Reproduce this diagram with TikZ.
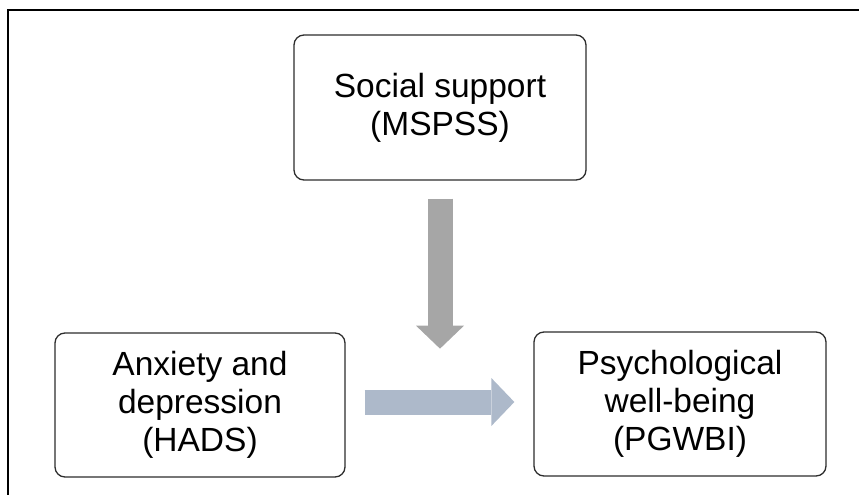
\documentclass[tikz,border=0pt]{standalone}
\usepackage{fontspec}
\setmainfont{Liberation Sans}
\usetikzlibrary{arrows.meta,positioning,calc}
\definecolor{boxline}{RGB}{45,45,45}
\definecolor{supgray}{RGB}{166,166,166}
\definecolor{effblue}{RGB}{173,185,202}
\begin{document}
\begin{tikzpicture}[x=1pt,y=-1pt,
  box/.style={draw=boxline,line width=1.3pt,rounded corners=10pt,minimum width=292pt,
    minimum height=145pt,align=center,inner sep=0pt,
    font=\fontsize{33.5}{38}\selectfont},
  fatarrow/.style={line width=25pt,-{Triangle[length=23pt,width=48pt,line width=0pt]}}]
  \useasboundingbox (0,0) rectangle (859,495);
  % frame
  \draw[line width=1.5pt] (8,495) -- (8,10) -- (859,10);
  % Social support
  \node[box] (social) at (440,107.5) {Social support\\(MSPSS)};
  % Anxiety and depression
  \node[box,minimum width=290pt,minimum height=144pt] (anxdep) at (200,405)
    {Anxiety and\\depression\\(HADS)};
  % Psychological well-being
  \node[box,minimum height=144pt] (wellb) at (680,404)
    {Psychological\\well-being\\(PGWBI)};
  % Arrows
  \coordinate (modtip) at ($(social.south)+(0,168)$);
  \draw[fatarrow,supgray] ($(social.south)+(0,18)$) -- (modtip);
  \draw[fatarrow,effblue] ([xshift=19pt,yshift=3pt]anxdep.east)
    -- ([xshift=-19pt,yshift=3pt]anxdep.east -| wellb.west);
\end{tikzpicture}
\end{document}
